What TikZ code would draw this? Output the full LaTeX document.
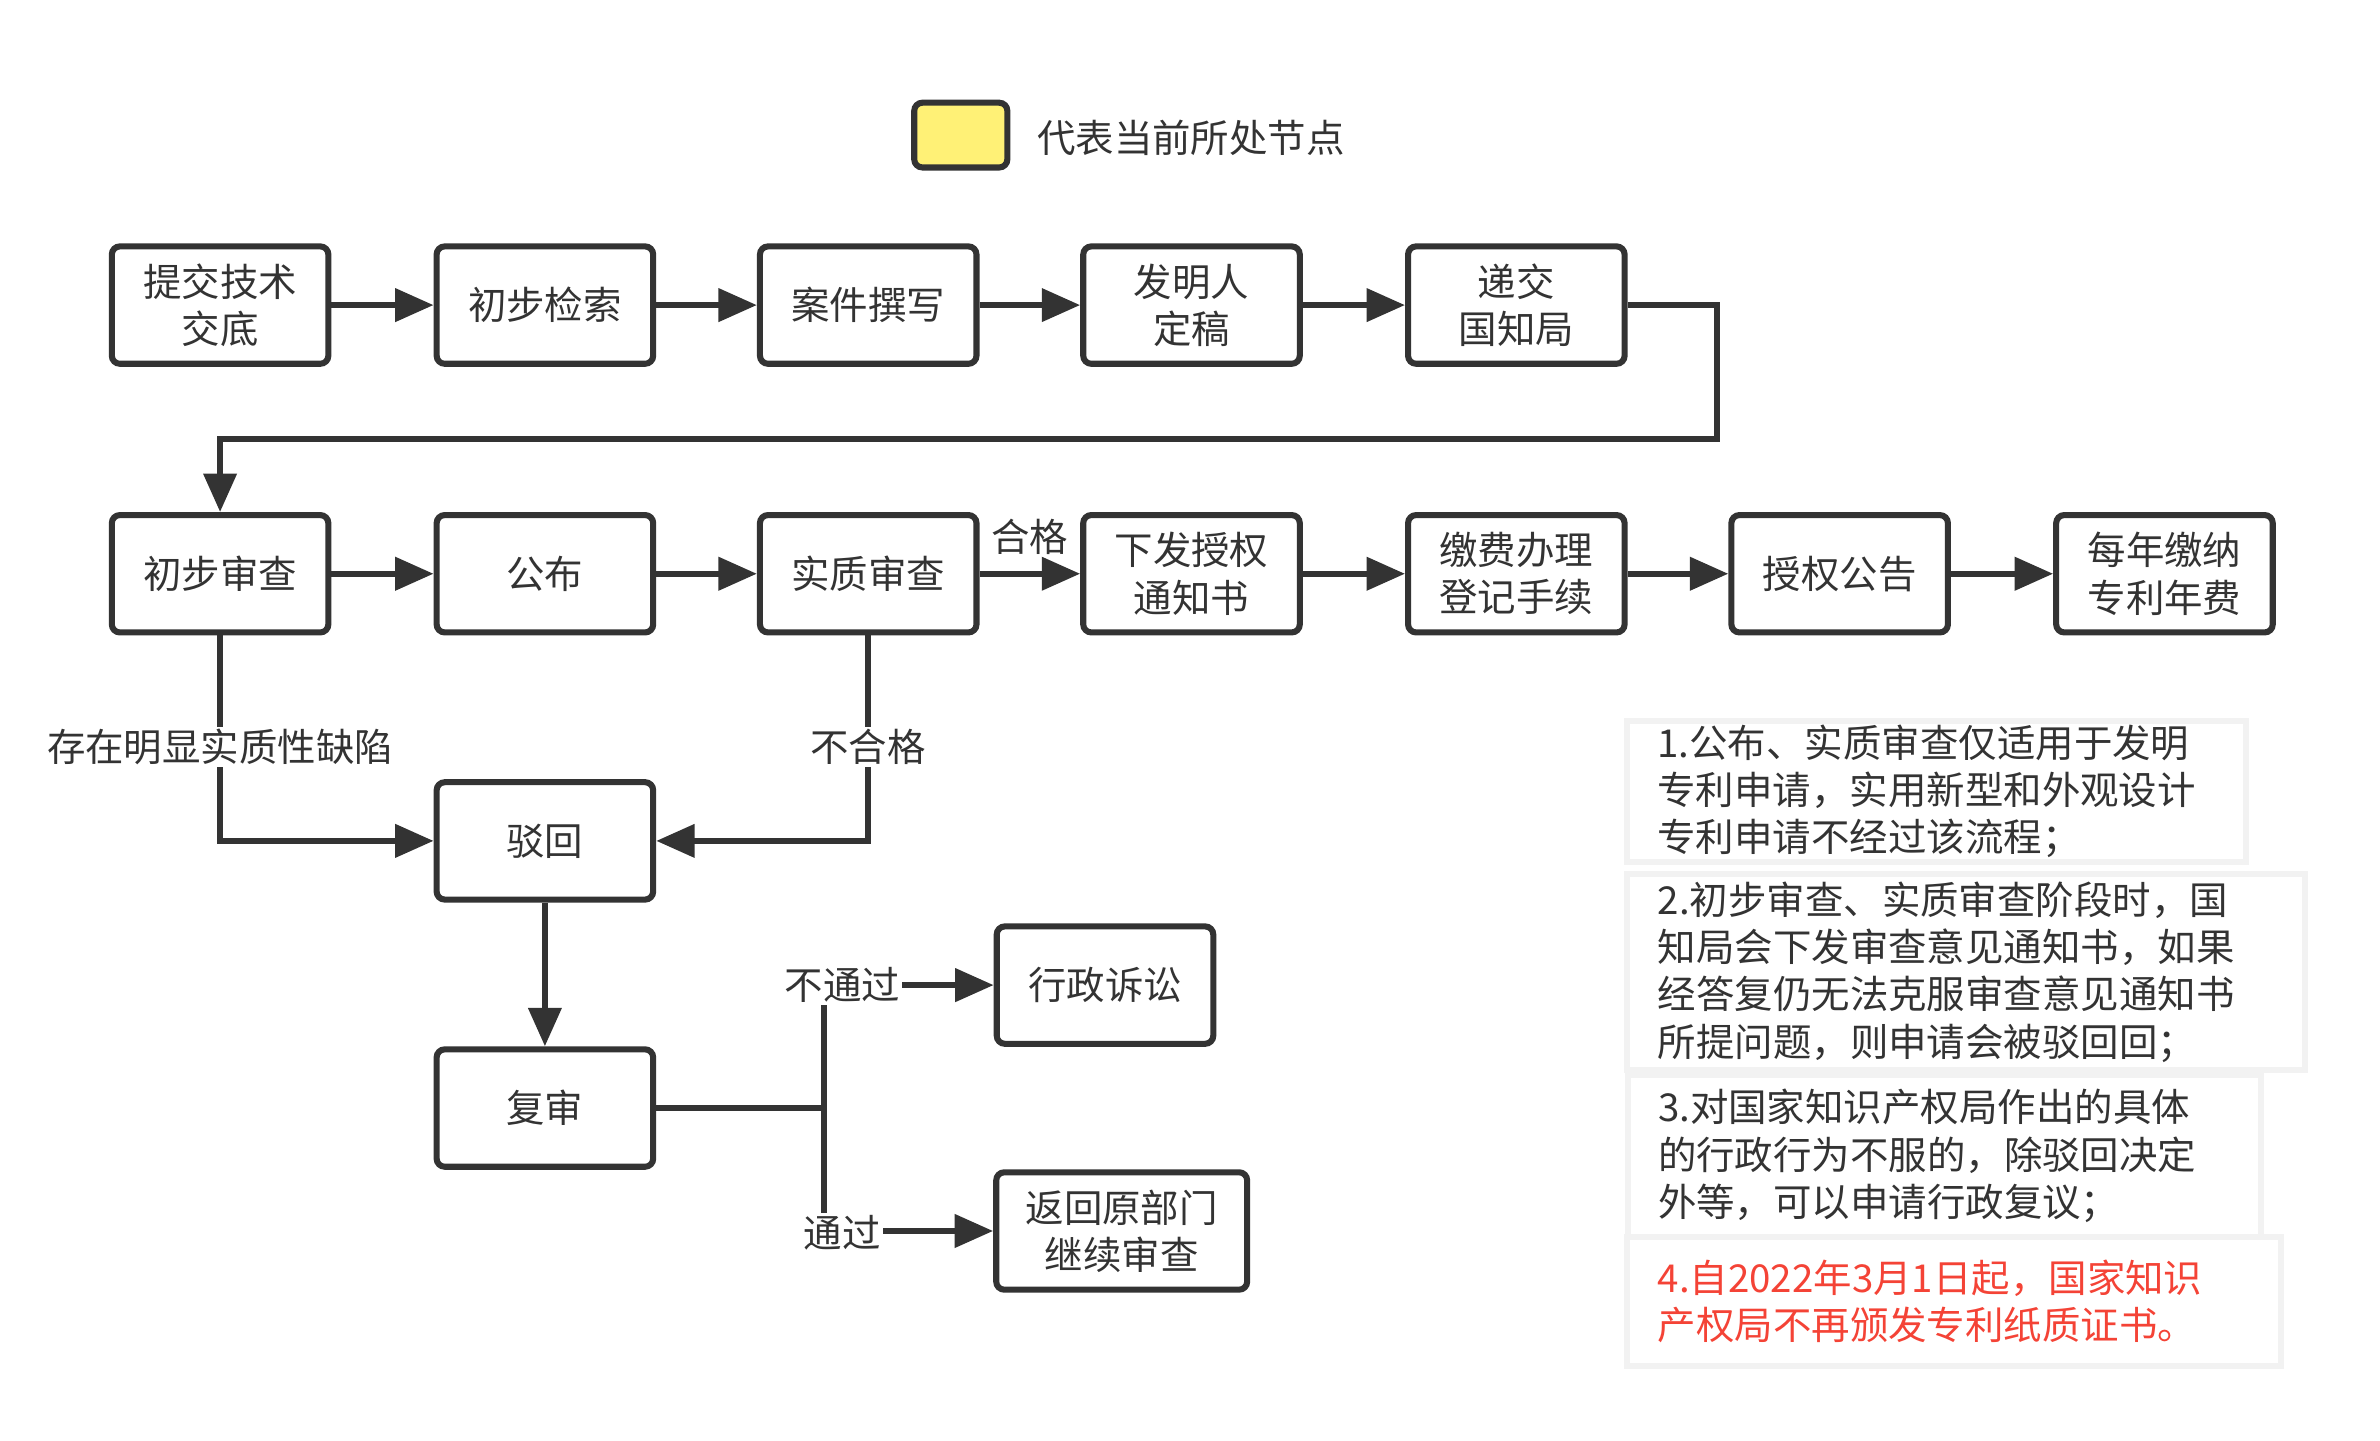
\documentclass[tikz,border=0pt]{standalone}
\usepackage{fontspec}
\setmainfont{Noto Sans CJK SC}
\usetikzlibrary{arrows.meta, positioning, calc}
\definecolor{ink}{HTML}{333333}
\definecolor{current}{HTML}{FFF176}
\definecolor{noteline}{HTML}{F2F2F2}
\definecolor{warn}{HTML}{F44336}

\begin{document}
\begin{tikzpicture}[
    x=0.75pt, y=-0.75pt,
    >={Triangle[length=19pt, width=16pt]},
    font=\fontsize{19}{23.3}\selectfont,
    stepbox/.style={draw=ink, line width=3pt, rounded corners=4pt,
                    minimum width=107pt, minimum height=58pt,
                    align=center, text=ink, inner sep=2pt},
    flow/.style={->, draw=ink, line width=3pt},
    link/.style={draw=ink, line width=3pt},
    edgelabel/.style={fill=white, inner sep=1pt, text=ink},
    note/.style={draw=noteline, line width=3pt, align=left, text=ink,
                 inner xsep=15pt, inner ysep=2pt},
]

\useasboundingbox (0,0) rectangle (1568,949);

% ── legend ──
\node[stepbox, fill=current, minimum width=46pt, minimum height=32pt] (legendbox) at (633,89) {};
\node[anchor=west, inner sep=0pt, text=ink] (legendtext) at (683,91) {代表当前所处节点};

% ── row 1: drafting ──
\node[stepbox] (tijiao)   at (145,201) {提交技术\\交底};
\node[stepbox] (jiansuo)  at (359,201) {初步检索};
\node[stepbox] (zhuanxie) at (572,201) {案件撰写};
\node[stepbox] (dinggao)  at (785,201) {发明人\\定稿};
\node[stepbox] (dijiao)   at (999,201) {递交\\国知局};

% ── row 2: examination ──
\node[stepbox] (chushen) at (145,378)  {初步审查};
\node[stepbox] (gongbu)  at (359,378)  {公布};
\node[stepbox] (shizhi)  at (572,378)  {实质审查};
\node[stepbox] (xiafa)   at (785,378)  {下发授权\\通知书};
\node[stepbox] (jiaofei) at (999,378)  {缴费办理\\登记手续};
\node[stepbox] (gonggao) at (1212,378) {授权公告};
\node[stepbox] (nianfei) at (1426,378) {每年缴纳\\专利年费};

% ── rejection branch ──
\node[stepbox] (bohui)  at (359,554) {驳回};
\node[stepbox] (fushen) at (359,730) {复审};
\node[stepbox] (susong) at (728,649) {行政诉讼};
\node[stepbox, minimum width=124pt] (fanhui) at (739,811) {返回原部门\\继续审查};

% ── connectors ──
\foreach \a/\b in {tijiao/jiansuo, jiansuo/zhuanxie, zhuanxie/dinggao, dinggao/dijiao,
                   chushen/gongbu, gongbu/shizhi, xiafa/jiaofei, jiaofei/gonggao, gonggao/nianfei} {
    \draw[flow] (\a) -- (\b);
}
\draw[flow] (shizhi) -- node[above, yshift=4.5pt, text=ink] (hege) {合格} (xiafa);

\coordinate (turn) at (1131,289);
\draw[flow] (dijiao.east) -| (turn) -| (chushen.north);

\draw[flow] (chushen.south) |- (bohui.west);
\draw[flow] (shizhi.south) |- (bohui.east);
\node[edgelabel] (quexian) at (145,492) {存在明显实质性缺陷};
\node[edgelabel] (buhege) at (572,492) {不合格};

\draw[flow] (bohui) -- (fushen);
\coordinate (split) at (543,730);
\draw[link] (fushen.east) -- (split);
\draw[flow] (split) |- (susong.west);
\draw[flow] (split) |- (fanhui.west);
\node[edgelabel] (butongguo) at (555,649) {不通过};
\node[edgelabel] (tongguo) at (555,812) {通过};

% ── notes ──
\node[note, text width=276pt, minimum height=68pt] (note1) at (1276,521.5)
    {1.公布、实质审查仅适用于发明\\专利申请，实用新型和外观设计\\专利申请不经过该流程；};
\node[note, text width=305pt, minimum height=97pt] (note2) at (1295.5,640.5)
    {2.初步审查、实质审查阶段时，国\\知局会下发审查意见通知书，如果\\经答复仍无法克服审查意见通知书\\所提问题，则申请会被驳回回；};
\node[note, text width=283pt, minimum height=80pt] (note3) at (1281,761.5)
    {3.对国家知识产权局作出的具体\\的行政行为不服的，除驳回决定\\外等，可以申请行政复议；};
\node[note, text=warn, text width=293pt, minimum height=64pt] (note4) at (1287.5,857.5)
    {4.自2022年3月1日起，国家知识\\产权局不再颁发专利纸质证书。};

\end{tikzpicture}
\end{document}
